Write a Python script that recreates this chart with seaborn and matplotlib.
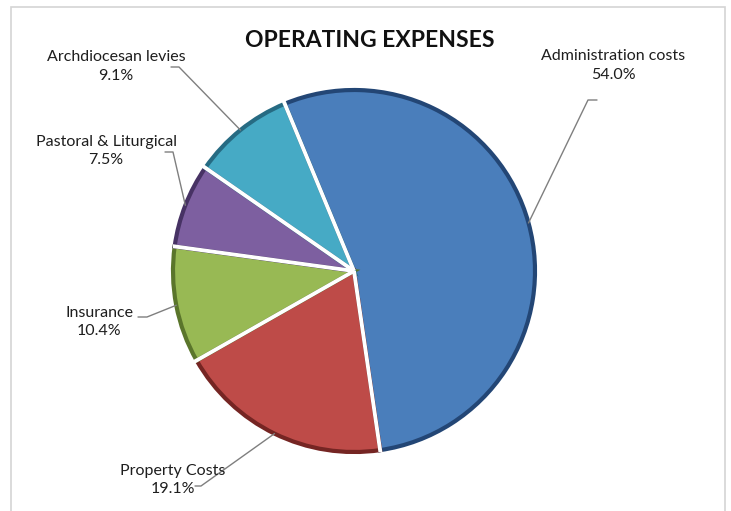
import matplotlib
matplotlib.use("Agg")
import matplotlib.pyplot as plt
from matplotlib.lines import Line2D
from matplotlib.patches import Rectangle
import numpy as np
import seaborn as sns


categories = ["Administration costs", "Property Costs", "Insurance",
              "Pastoral & Liturgical", "Archdiocesan levies"]
shares = [54.0, 19.1, 10.4, 7.5, 9.1]
pct_labels = ["54.0%", "19.1%", "10.4%", "7.5%", "9.1%"]

colors = ["#4A7EBB", "#BE4B48", "#98B954", "#7D5FA0", "#46AAC5"]
edge_colors = ["#234675", "#752523", "#5A752B", "#473264", "#266B83"]

W, H = 731, 511

# label layout in image pixels: text centre, leader start, leader elbow
label_xy = [(613, 65.5), (173, 480), (99, 322), (106, 151), (116, 66.5)]
leader_start = [(597, 100), (195, 486), (138, 317), (165, 152), (171, 67)]
leader_elbow = [(588, 100), (201, 486), (147, 317), (173, 152), (179, 67)]

sns.set_theme(style="white")
plt.rcParams["font.family"] = ["Lato", "DejaVu Sans"]

fig = plt.figure(figsize=(W / 100, H / 100), dpi=100)
fig.patch.set_facecolor("white")

cx, cy, r = 354, 271, 181
ax = fig.add_axes([(cx - r) / W, (H - cy - r) / H, 2 * r / W, 2 * r / H])

wedges, _ = ax.pie(
    shares,
    colors=colors,
    startangle=112.5,
    counterclock=False,
    radius=1,
    wedgeprops=dict(linewidth=3),
)
for w, ec in zip(wedges, edge_colors):
    w.set_edgecolor(ec)
ax.set_xlim(-1, 1)
ax.set_ylim(-1, 1)
ax.axis("off")

# white separators between slices
for w in wedges:
    t = np.deg2rad(w.theta1)
    ax.plot([0, 1.02 * np.cos(t)], [0, 1.02 * np.sin(t)], color="white",
            lw=2.8, solid_capstyle="butt", zorder=5)

to_fig = fig.transFigure.inverted()

def px(p):
    return (p[0] / W, 1 - p[1] / H)

for w, name, pct, txy, s, e in zip(wedges, categories, pct_labels,
                                   label_xy, leader_start, leader_elbow):
    mid = np.deg2rad((w.theta1 + w.theta2) / 2)
    edge_disp = ax.transData.transform((np.cos(mid), np.sin(mid)))
    edge = to_fig.transform(edge_disp)
    p0, p1 = px(s), px(e)
    fig.add_artist(Line2D([p0[0], p1[0], edge[0]], [p0[1], p1[1], edge[1]],
                          color="#7f7f7f", lw=1.0, transform=fig.transFigure))
    tx, ty = px(txy)
    fig.text(tx, ty, f"{name}\n{pct}", ha="center", va="center",
             fontsize=11.5, color="#1e1e1e", linespacing=1.4)

fig.text(370 / W, 1 - 40.5 / H, "OPERATING EXPENSES", ha="center",
         va="center", fontsize=16.5, fontweight="bold", color="#111111")

fig.add_artist(Rectangle((11 / W, -0.02), (725 - 11) / W, (H - 7) / H + 0.02,
                         fill=False, edgecolor="#d4d4d4", lw=1.2,
                         transform=fig.transFigure))

fig.savefig("out.png", dpi=100)
